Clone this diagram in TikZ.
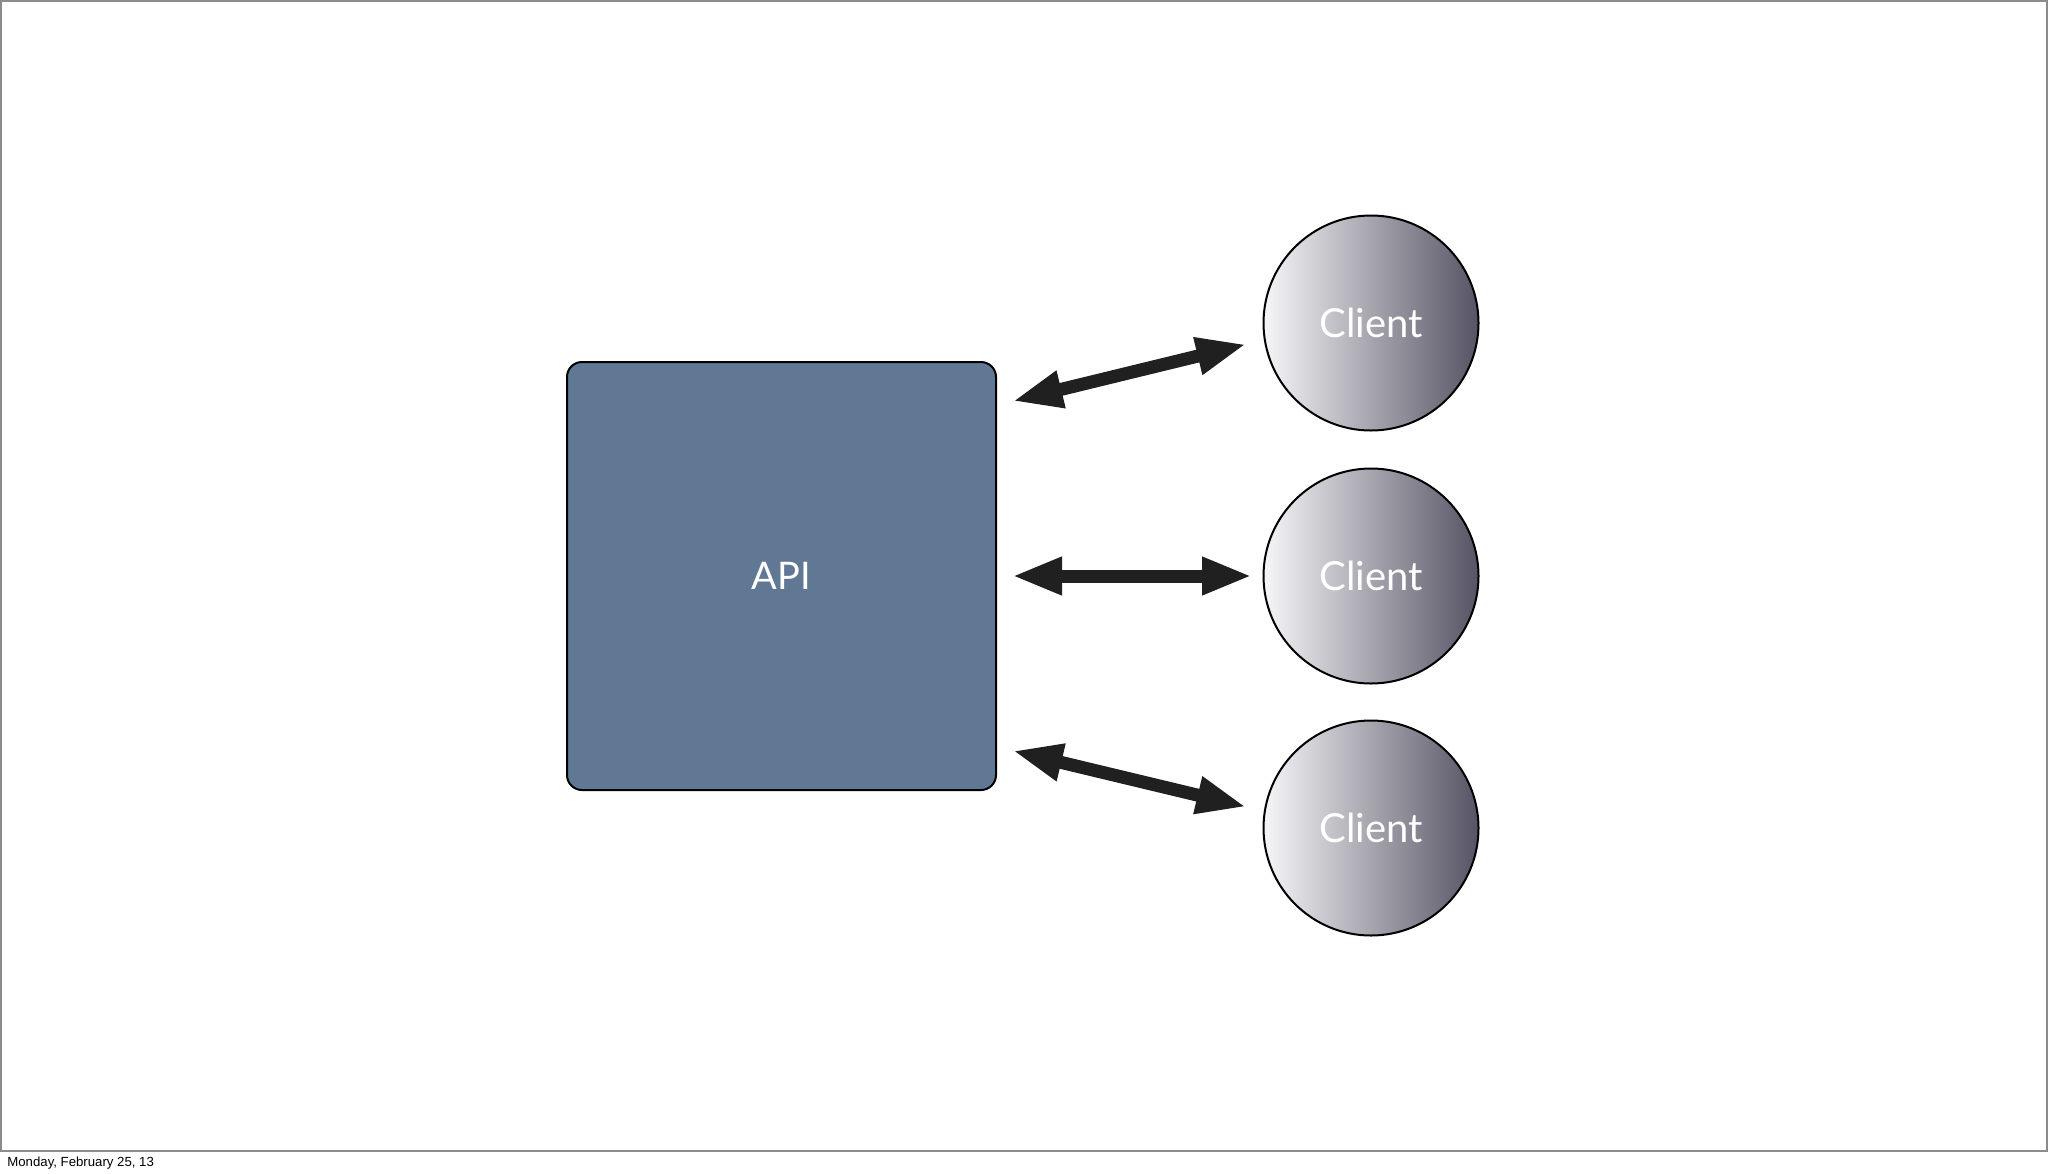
\documentclass[tikz,border=0pt]{standalone}
\usepackage{fontspec}
\setmainfont{Lato}
\newfontfamily\datefont{Liberation Sans}
\usetikzlibrary{arrows.meta}
\definecolor{apiblue}{RGB}{96,120,148}
\definecolor{clientlight}{RGB}{246,246,248}
\definecolor{clientmid}{RGB}{168,167,175}
\definecolor{clientdark}{RGB}{86,84,100}
\definecolor{arrowblack}{RGB}{32,32,32}
\definecolor{framegray}{RGB}{140,140,140}

\begin{document}
\begin{tikzpicture}[x=0.5pt,y=-0.5pt,
    client/.style={circle,draw=black,line width=1pt,minimum size=107.5pt,inner sep=0pt,
      left color=clientlight,middle color=clientmid,right color=clientdark,
      text=white,font=\fontsize{20}{22}\selectfont},
    link/.style={draw=arrowblack,line width=6.5pt,
      {Triangle[length=25pt,width=17.5pt]}-{Triangle[length=25pt,width=17.5pt]}}]
  \useasboundingbox (0,0) rectangle (2048,1173);
  \draw[framegray,line width=1pt] (1,1) rectangle (2047,1151);
  \node[anchor=base west,inner sep=0pt,font=\datefont\fontsize{6.6}{7}\selectfont]
    (date) at (7,1166) {Monday, February 25, 13};
  % server and clients
  \node[rectangle,rounded corners=7.5pt,draw=black,line width=1pt,fill=apiblue,
    minimum width=214.5pt,minimum height=214pt,text=white,
    font=\fontsize{19}{21}\selectfont] (api) at (781.5,576) {API};
  \node[client] (c1) at (1371,323) {Client};
  \node[client] (c2) at (1371,576) {Client};
  \node[client] (c3) at (1371,828) {Client};
  % links
  \draw[link,shorten <=8pt,shorten >=9pt] ([yshift=85.5pt]api.east) -- (c1.189);
  \draw[link,shorten <=7.5pt,shorten >=5.25pt] (api.east) -- (c2.west);
  \draw[link,shorten <=8pt,shorten >=9pt] ([yshift=-85.5pt]api.east) -- (c3.171);
\end{tikzpicture}
\end{document}
